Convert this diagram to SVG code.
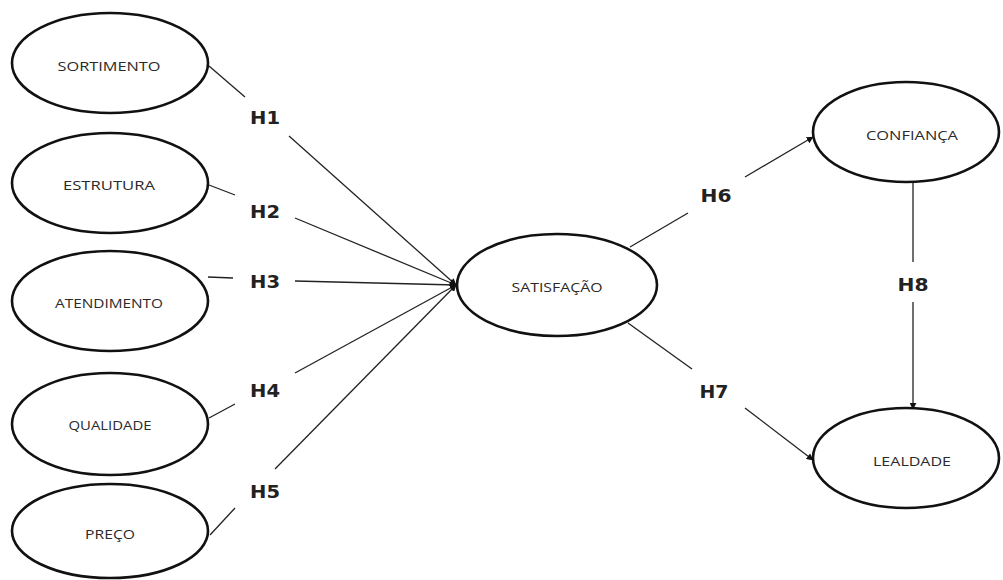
<svg xmlns="http://www.w3.org/2000/svg" width="1003" height="580" viewBox="0 0 1003 580">
<style>
.node ellipse{fill:#fff;stroke:#111;stroke-width:2.6}
.node text{font-family:"Open Sans","DejaVu Sans",sans-serif;font-size:12.5px;fill:#2a2a2a;text-anchor:middle}
.conn line{stroke:#222;stroke-width:1.3;fill:none}
.lbl{font-family:"DejaVu Sans",sans-serif;font-weight:bold;font-size:18px;fill:#222;text-anchor:middle}
</style>
<defs>
<marker id="arr" viewBox="0 0 10 10" refX="9" refY="5" markerWidth="7" markerHeight="7" markerUnits="userSpaceOnUse" orient="auto">
<path d="M0,0 L10,5 L0,10 z" fill="#111"/>
</marker>
</defs>
<rect width="1003" height="580" fill="#fff"/>
<g class="conn">
<line x1="209" y1="66" x2="245" y2="97"/>
<line x1="289" y1="136" x2="456" y2="285" marker-end="url(#arr)"/>
<line x1="209" y1="185" x2="235" y2="195"/>
<line x1="295" y1="218" x2="456" y2="285" marker-end="url(#arr)"/>
<line x1="208" y1="277" x2="233" y2="278"/>
<line x1="295" y1="281" x2="456" y2="285" marker-end="url(#arr)"/>
<line x1="209" y1="418" x2="235" y2="404"/>
<line x1="295" y1="373" x2="456" y2="285" marker-end="url(#arr)"/>
<line x1="210" y1="535" x2="235" y2="508"/>
<line x1="275" y1="469" x2="456" y2="285" marker-end="url(#arr)"/>
<line x1="630" y1="247" x2="688" y2="213"/>
<line x1="745" y1="177" x2="813" y2="137" marker-end="url(#arr)"/>
<line x1="628" y1="323" x2="692" y2="369"/>
<line x1="745" y1="408" x2="813" y2="460" marker-end="url(#arr)"/>
<line x1="913" y1="182" x2="913" y2="262"/>
<line x1="913" y1="302" x2="913" y2="409" marker-end="url(#arr)"/>
</g>
<g id="labels">
<text class="lbl" x="265" y="124" textLength="30" lengthAdjust="spacingAndGlyphs">H1</text>
<text class="lbl" x="265" y="218" textLength="30" lengthAdjust="spacingAndGlyphs">H2</text>
<text class="lbl" x="265" y="288" textLength="30" lengthAdjust="spacingAndGlyphs">H3</text>
<text class="lbl" x="265" y="397" textLength="30" lengthAdjust="spacingAndGlyphs">H4</text>
<text class="lbl" x="265" y="498" textLength="30" lengthAdjust="spacingAndGlyphs">H5</text>
<text class="lbl" x="716" y="202" textLength="31" lengthAdjust="spacingAndGlyphs">H6</text>
<text class="lbl" x="714" y="398" textLength="29" lengthAdjust="spacingAndGlyphs">H7</text>
<text class="lbl" x="913" y="291" textLength="31" lengthAdjust="spacingAndGlyphs">H8</text>
</g>
<g id="sortimento" class="node"><ellipse cx="110" cy="63" rx="98" ry="50"/><text x="109" y="71" textLength="103" lengthAdjust="spacingAndGlyphs">SORTIMENTO</text></g>
<g id="estrutura" class="node"><ellipse cx="110" cy="183" rx="98" ry="50"/><text x="109" y="190" textLength="92" lengthAdjust="spacingAndGlyphs">ESTRUTURA</text></g>
<g id="atendimento" class="node"><ellipse cx="110" cy="301" rx="98" ry="50"/><text x="109" y="308" textLength="108" lengthAdjust="spacingAndGlyphs">ATENDIMENTO</text></g>
<g id="qualidade" class="node"><ellipse cx="110" cy="424" rx="98" ry="51"/><text x="110" y="430" textLength="83" lengthAdjust="spacingAndGlyphs">QUALIDADE</text></g>
<g id="preco" class="node"><ellipse cx="110" cy="531" rx="98" ry="47"/><text x="110" y="539" textLength="50" lengthAdjust="spacingAndGlyphs">PREÇO</text></g>
<g id="satisfacao" class="node"><ellipse cx="557" cy="285" rx="100" ry="51"/><text x="557" y="292" textLength="91" lengthAdjust="spacingAndGlyphs">SATISFAÇÃO</text></g>
<g id="confianca" class="node"><ellipse cx="906" cy="132" rx="93" ry="50"/><text x="912" y="140" textLength="92" lengthAdjust="spacingAndGlyphs">CONFIANÇA</text></g>
<g id="lealdade" class="node"><ellipse cx="906" cy="458" rx="93" ry="50"/><text x="912" y="466" textLength="78" lengthAdjust="spacingAndGlyphs">LEALDADE</text></g>
</svg>
